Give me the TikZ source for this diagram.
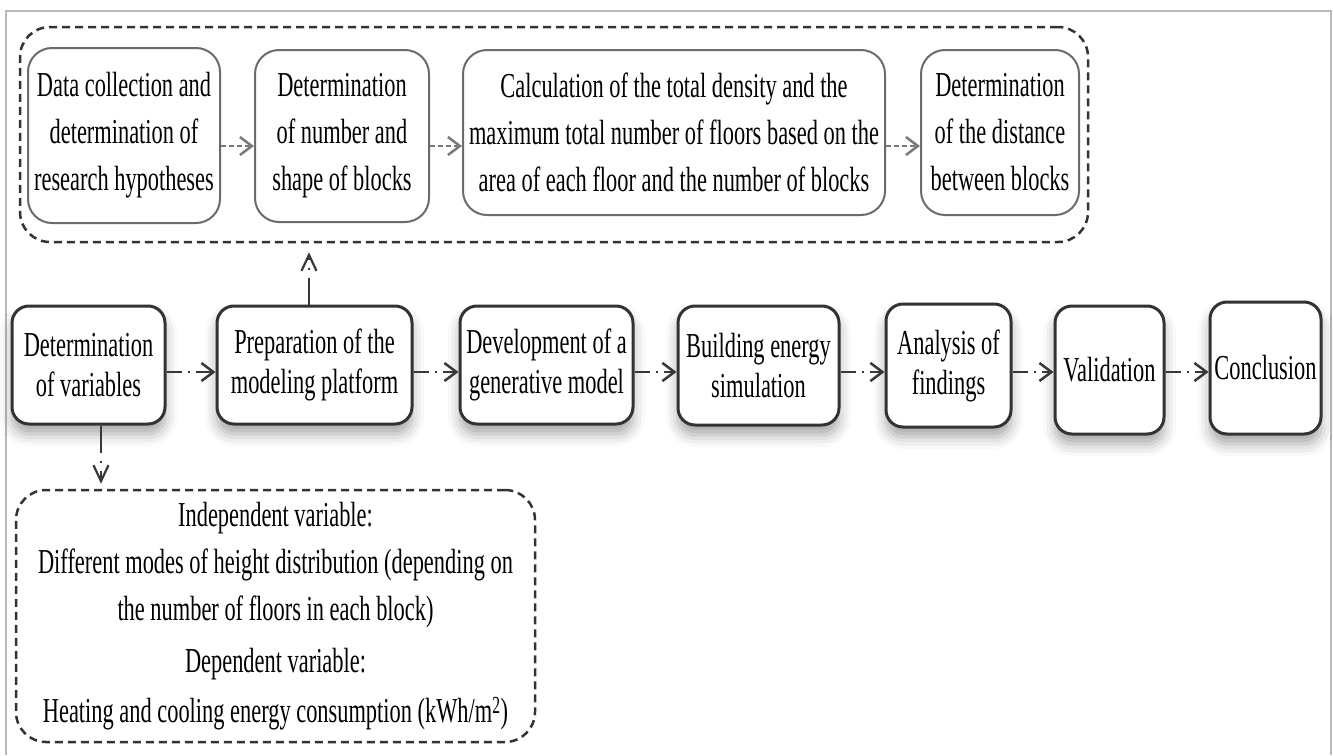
\documentclass[tikz,border=0pt]{standalone}
\usepackage{fontspec}
\setmainfont{Liberation Serif}[FakeStretch=0.64]
\usetikzlibrary{arrows.meta,shadows.blur}
\begin{document}
\begin{tikzpicture}[x=1pt,y=-1pt,
  frameline/.style={draw=black!27, line width=2.5pt},
  topbox/.style={draw=black!58, line width=2pt, rounded corners=24pt, align=center, inner sep=0pt, font=\fontsize{35}{47}\selectfont},
  midbox/.style={draw=black!80, line width=3pt, rounded corners=17pt, fill=white, align=center, inner sep=0pt, font=\fontsize{35}{40}\selectfont,
     blur shadow={shadow xshift=0pt, shadow yshift=-10pt, shadow blur radius=12pt, shadow opacity=35}},
  grpbox/.style={draw=black!80, line width=2.5pt, dash pattern=on 8pt off 5pt, rounded corners=30pt, inner sep=0pt, align=center, font=\fontsize{35}{47}\selectfont},
  tarrow/.style={draw=black!52, line width=2.5pt, dash pattern=on 5pt off 3pt, -{Straight Barb[length=12pt,width=18pt]}},
  marrow/.style={draw=black!78, line width=2.5pt, dash pattern=on 15pt off 6pt on 2pt off 6pt on 60pt off 1pt, -{Straight Barb[length=12pt,width=18pt]}},
  varrow/.style={draw=black!78, line width=2.2pt, dash pattern=on 27pt off 8pt on 2pt off 8pt on 60pt off 1pt, -{Straight Barb[length=16pt,width=15pt]}}
]
\useasboundingbox (0,0) rectangle (1333,755);
\draw[frameline] (6,755) -- (6,11) -- (1331,11) -- (1331,755);

% top group
\node[grpbox, minimum width=1068pt, minimum height=215pt] (grp) at (554,134.5) {};
\node[topbox, minimum width=192pt, minimum height=175pt] (b1) at (124,135.5) {Data collection and\\determination of\\research hypotheses};
\node[topbox, minimum width=174pt, minimum height=172pt] (b2) at (342,136) {Determination\\of number and\\shape of blocks};
\node[topbox, minimum width=422pt, minimum height=165pt] (b3) at (674,132.5) {Calculation of the total density and the\\maximum total number of floors based on the\\area of each floor and the number of blocks};
\node[topbox, minimum width=158pt, minimum height=165pt] (b4) at (1000,132.5) {Determination\\of the distance\\between blocks};

\coordinate (ty) at (0,146);
\draw[tarrow] (b1.east |- ty) -- (b2.west |- ty);
\draw[tarrow] (b2.east |- ty) -- (b3.west |- ty);
\draw[tarrow] (b3.east |- ty) -- (b4.west |- ty);

% middle row
\node[midbox, minimum width=153pt, minimum height=118pt] (A) at (88.5,365) {Determination\\of variables};
\node[midbox, minimum width=195pt, minimum height=118pt] (B) at (314.5,365) {Preparation of the\\modeling platform};
\node[midbox, minimum width=173pt, minimum height=118pt] (C) at (546.5,365) {Development of a\\generative model};
\node[midbox, minimum width=161pt, minimum height=119pt] (D) at (758.5,365.5) {Building energy\\simulation};
\node[midbox, minimum width=125pt, minimum height=123pt] (E) at (948.5,365.5) {Analysis of\\findings};
\node[midbox, minimum width=109pt, minimum height=128pt] (F) at (1109.5,370) {Validation};
\node[midbox, minimum width=111pt, minimum height=132pt] (G) at (1265.5,368) {Conclusion};

\coordinate (my) at (0,372);
\draw[marrow] (A.east |- my) -- (B.west |- my);
\draw[marrow] (B.east |- my) -- (C.west |- my);
\draw[marrow] (C.east |- my) -- (D.west |- my);
\draw[marrow] (D.east |- my) -- (E.west |- my);
\draw[marrow] (E.east |- my) -- (F.west |- my);
\draw[marrow] (F.east |- my) -- (G.west |- my);

% bottom box
\node[grpbox, minimum width=519pt, minimum height=252pt] (V) at (275.5,616) {Independent variable:\\Different modes of height distribution (depending on\\the number of floors in each block)\\[5pt]Dependent variable:\\[3pt]Heating and cooling energy consumption (kWh/m\textsuperscript{2})};

\coordinate (ux) at (309,0);
\coordinate (dx) at (101,0);
\draw[varrow, shorten >=9pt] (ux |- B.north) -- (ux |- grp.south);
\draw[varrow, shorten >=5pt] (dx |- A.south) -- (dx |- V.north);
\end{tikzpicture}
\end{document}
